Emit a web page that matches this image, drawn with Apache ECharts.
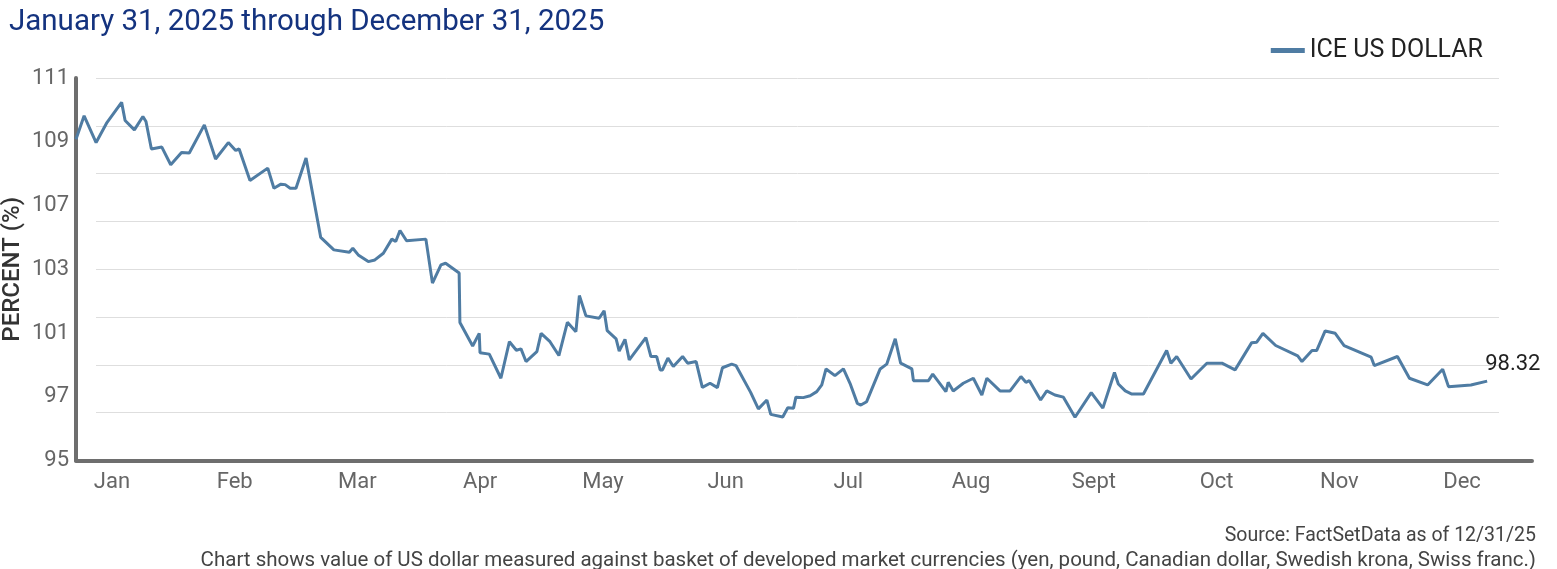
<!DOCTYPE html>
<html>
<head>
<meta charset="utf-8">
<title>ICE US Dollar</title>
<script src="https://cdn.jsdelivr.net/npm/echarts@6/dist/echarts.min.js"></script>
<style>
    html, body { margin: 0; padding: 0; background: #fff; }
    #chart { width: 1557px; height: 569px; }
</style>
</head>
<body>
<div id="chart"></div>
<script>
// ICE US Dollar index, 12/31/24 -> 12/31/25
// x = days after Dec 31 2024
const days = [
    0, 2.1, 5.2, 7.9, 11.8, 12.7, 15.1, 17.3, 18.1, 19.5, 22.2, 24.5, 27.3, 29.3, 33.2, 36.1,
    39.4, 41.3, 42.2, 45.0, 49.6, 51.2, 53.0, 54.1, 55.4, 56.9, 59.5, 63.3, 66.7, 70.7, 71.6, 73.0,
    75.6, 77.3, 79.5, 81.7, 82.7, 83.8, 85.5, 90.5, 92.2, 94.4, 95.6, 99.1, 99.3, 102.6, 104.3, 104.5,
    106.9, 109.9, 112.1, 113.9, 115.1, 116.4, 119.2, 120.3, 122.6, 124.9, 127.1, 129.3, 130.2, 131.9,
    135.3, 136.6, 137.4, 139.7, 140.5, 142.0, 143.1, 147.4, 148.7, 150.2, 151.1, 151.7, 153.1, 154.5,
    156.9, 158.2, 160.4, 162.0, 164.0, 165.9, 167.2, 169.6, 170.7, 174.5, 176.5, 178.7, 179.7, 182.8,
    184.1, 185.6, 186.2, 188.1, 189.9, 191.6, 192.9, 194.0, 196.3, 198.5, 200.2, 202.1, 203.0, 204.5,
    208.0, 209.7, 211.9, 213.3, 216.2, 216.6, 220.5, 221.6, 225.0, 225.6, 226.9, 229.5, 232.1, 234.3,
    235.6, 239.0, 241.6, 244.4, 245.7, 246.6, 249.5, 251.1, 253.2, 255.4, 258.4, 262.6, 265.6, 268.6,
    269.6, 271.4, 273.1, 276.1, 282.1, 283.2, 284.7, 288.4, 292.5, 296.4, 299.8, 304.1, 305.4, 307.0,
    310.3, 316.0, 317.1, 319.7, 320.9, 323.1, 325.7, 328.0, 335.0, 335.8, 341.8, 344.9, 349.6, 353.5,
    355.0, 355.4, 360.8, 365.0
];
const dollar = [
    108.44, 109.42, 108.30, 109.11, 109.98, 109.22, 108.83, 109.39, 109.18, 108.03, 108.11, 107.37, 107.88, 107.86, 109.04, 107.61,
    108.30, 107.97, 108.03, 106.71, 107.23, 106.39, 106.56, 106.54, 106.39, 106.39, 107.65, 104.33, 103.81, 103.71, 103.88, 103.60,
    103.32, 103.39, 103.67, 104.26, 104.16, 104.62, 104.19, 104.26, 102.42, 103.18, 103.25, 102.84, 100.77, 99.79, 100.32, 99.51,
    99.45, 98.44, 99.97, 99.61, 99.67, 99.14, 99.55, 100.32, 99.97, 99.39, 100.78, 100.39, 101.90, 101.05,
    100.95, 101.26, 100.43, 100.09, 99.58, 100.07, 99.21, 100.14, 99.35, 99.35, 98.79, 98.79, 99.28, 98.93,
    99.35, 99.07, 99.14, 98.06, 98.23, 98.05, 98.88, 99.03, 98.97, 97.85, 97.16, 97.53, 96.93, 96.82,
    97.21, 97.19, 97.65, 97.63, 97.71, 97.88, 98.16, 98.83, 98.55, 98.83, 98.23, 97.39, 97.32, 97.46,
    98.83, 99.03, 100.09, 99.07, 98.83, 98.34, 98.34, 98.61, 97.88, 98.27, 97.91, 98.23, 98.44, 97.74,
    98.44, 97.91, 97.91, 98.51, 98.27, 98.34, 97.53, 97.91, 97.74, 97.65, 96.81, 97.84, 97.19, 98.68,
    98.20, 97.91, 97.78, 97.78, 99.60, 99.07, 99.35, 98.41, 99.07, 99.07, 98.79, 99.93, 99.95, 100.32,
    99.81, 99.38, 99.14, 99.60, 99.60, 100.42, 100.32, 99.81, 99.32, 98.97, 99.35, 98.44, 98.16, 98.82,
    98.09, 98.06, 98.16, 98.32
];
const monthLabels = ['Jan', 'Feb', 'Mar', 'Apr', 'May', 'Jun', 'Jul', 'Aug', 'Sept', 'Oct', 'Nov', 'Dec'];
// the printed y labels are spread evenly along the axis, not at their values
const yTickLabels = ['95', '97', '101', '103', '107', '109', '111'];
const seriesName = 'ICE US DOLLAR';

const FONT = 'Roboto, "Noto Sans", sans-serif';
const AXIS_GREY = '#6e6e6e';
const LINE_BLUE = '#4f7ca3';

const chart = echarts.init(document.getElementById('chart'));

const option = {
    animation: false,
    backgroundColor: '#fff',
    textStyle: { fontFamily: FONT },
    title: [
        { text: 'January 31, 2025 through December 31, 2025', left: 4, top: 3,
          textStyle: { fontFamily: FONT, fontSize: 29.5, fontWeight: 'normal', color: '#14337f' } },
        { text: 'Source: FactSetData as of 12/31/25', right: 16, top: 521,
          textStyle: { fontFamily: FONT, fontSize: 19.5, fontWeight: 'normal', color: '#444' } },
        { text: 'Chart shows value of US dollar measured against basket of developed market currencies (yen, pound, Canadian dollar, Swedish krona, Swiss franc.)',
          right: 16, top: 545,
          textStyle: { fontFamily: FONT, fontSize: 20.5, fontWeight: 'normal', color: '#444' } }
    ],
    legend: {
        data: [seriesName], right: 69, top: 33,
        icon: 'rect', itemWidth: 34, itemHeight: 5, itemGap: 8,
        textStyle: { fontFamily: FONT, fontSize: 25, color: '#222' }
    },
    grid: [
        // 0: data + axis lines
        { left: 76, right: 25, top: 78, bottom: 108.5, outerBoundsMode: 'none' },
        // 1: horizontal gridlines (shorter than the axis)
        { left: 96, right: 58, top: 78, bottom: 108.5, outerBoundsMode: 'none' },
        // 2: month labels
        { left: 50.6, right: 33.6, top: 78, bottom: 108.5, outerBoundsMode: 'none' }
    ],
    xAxis: [
        { gridIndex: 0, type: 'value', min: 0, max: 376.6,
          axisLine: { show: true, onZero: false, lineStyle: { color: AXIS_GREY, width: 4 } },
          axisTick: { show: false }, axisLabel: { show: false }, splitLine: { show: false } },
        { gridIndex: 1, type: 'value', min: 0, max: 1, show: false },
        { gridIndex: 2, type: 'category', data: monthLabels, boundaryGap: true,
          axisLine: { show: false }, axisTick: { show: false }, splitLine: { show: false },
          axisLabel: { color: '#666', fontSize: 22, fontFamily: FONT, margin: 11 } }
    ],
    yAxis: [
        { gridIndex: 0, type: 'value', min: 95, max: 111, position: 'left',
          axisLine: { show: true, onZero: false, lineStyle: { color: AXIS_GREY, width: 4 } },
          axisTick: { show: false }, axisLabel: { show: false }, splitLine: { show: false } },
        { gridIndex: 0, type: 'category', data: yTickLabels, boundaryGap: false, position: 'left',
          name: 'PERCENT (%)', nameLocation: 'middle', nameGap: 51, nameRotate: 90,
          nameMoveOverlap: false,
          nameTextStyle: { fontFamily: FONT, fontSize: 24, color: '#333', fontWeight: 500 },
          axisLine: { show: false }, axisTick: { show: false }, splitLine: { show: false },
          axisLabel: { color: '#666', fontSize: 22, fontFamily: FONT, margin: 7 } },
        { gridIndex: 1, type: 'value', min: 95, max: 111, interval: 2,
          axisLine: { show: false }, axisTick: { show: false }, axisLabel: { show: false },
          splitLine: { show: true, lineStyle: { color: '#dedede', width: 1 } } },
        { gridIndex: 2, type: 'value', show: false }
    ],
    series: [{
        name: seriesName, type: 'line', xAxisIndex: 0, yAxisIndex: 0,
        data: days.map((d, i) => [d, dollar[i]]),
        symbol: 'none', smooth: false,
        lineStyle: { width: 3, color: LINE_BLUE },
        itemStyle: { color: LINE_BLUE },
        endLabel: {
            show: true, distance: 0, offset: [-2, -17],
            formatter: p => p.value[1].toFixed(2),
            fontFamily: FONT, fontSize: 22, color: '#222'
        }
    }]
};
chart.setOption(option);
</script>
</body>
</html>
